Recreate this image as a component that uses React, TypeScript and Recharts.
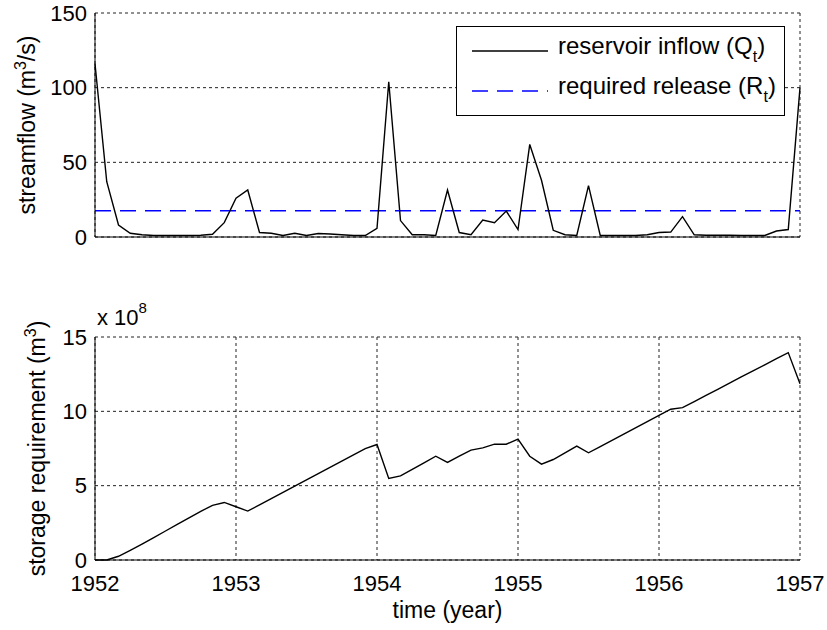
import React from "react";
import {
  LineChart,
  Line,
  XAxis,
  YAxis,
  CartesianGrid,
  Label,
} from "recharts";

// monthly values, Jan 1952 .. Jan 1957
const years = [1952, 1953, 1954, 1955, 1956, 1957];
const flowTicks = [0, 50, 100, 150];
const storageTicks = [0, 5, 10, 15];

// reservoir inflow Q_t (m^3/s)
const inflow = [
  116, 37, 8, 2.5, 1.5, 1, 1, 1, 1, 1.2, 1.8, 9.6,
  26, 31.5, 3, 2.5, 1, 2.5, 1, 2.3, 2, 1.5, 1, 1,
  5.8, 104, 11, 1.5, 1.5, 1, 31.5, 3, 1.5, 11.4, 9.6, 17.4,
  5, 62, 38, 4.5, 1.5, 1, 34.4, 1, 1, 1, 1, 1.5,
  3, 3.3, 13.6, 1.5, 1.2, 1.2, 1.2, 1, 1, 1, 4, 5,
  100,
];

// required release R_t (m^3/s)
const requiredRelease = 17.6;

// storage requirement (x 10^8 m^3)
const storage = [
  0, 0, 0.25, 0.65, 1.07, 1.51, 1.95, 2.39, 2.83, 3.27, 3.68, 3.87,
  3.58, 3.29, 3.71, 4.13, 4.55, 4.97, 5.39, 5.81, 6.23, 6.65, 7.07, 7.49,
  7.77, 5.48, 5.66, 6.1, 6.54, 6.98, 6.56, 6.98, 7.39, 7.54, 7.79, 7.79,
  8.13, 6.98, 6.45, 6.76, 7.21, 7.66, 7.21, 7.63, 8.05, 8.47, 8.89, 9.31,
  9.72, 10.14, 10.25, 10.66, 11.07, 11.48, 11.9, 12.31, 12.72, 13.13, 13.54, 13.95,
  11.86,
];

const rows = inflow.map((q, i) => ({
  t: years[0] + i / 12,
  inflow: q,
  release: requiredRelease,
  storage: storage[i],
}));

const FONT = "'Liberation Sans', Arial, Helvetica, sans-serif";
const tickStyle = { fontSize: 22, fill: "#000", fontFamily: FONT };
const gridProps = { stroke: "#222", strokeDasharray: "3 3" };
const boxLine = { stroke: "#000", strokeWidth: 1 };

function LegendBox() {
  const row = (top: number, dash: boolean, color: string, name: string, sym: string) => (
    <div style={{ position: "absolute", left: 15, top, height: 30, display: "flex", alignItems: "center" }}>
      <svg width={78} height={6} style={{ display: "block" }}>
        <line x1={0} y1={3} x2={76} y2={3} stroke={color} strokeWidth={1.4} strokeDasharray={dash ? "16 9" : undefined} />
      </svg>
      <span style={{ marginLeft: 8, fontSize: 24, fontFamily: FONT, color: "#000", whiteSpace: "nowrap", lineHeight: "30px" }}>
        {name} ({sym}
        <sub style={{ fontSize: 16, verticalAlign: "-8px" }}>t</sub>)
      </span>
    </div>
  );
  return (
    <div
      style={{
        position: "absolute",
        left: 456,
        top: 26,
        width: 329,
        height: 90,
        border: "1px solid #000",
        background: "#fff",
        boxSizing: "border-box",
      }}
    >
      {row(9, false, "#000", "reservoir inflow", "Q")}
      {row(49, true, "#0000ff", "required release", "R")}
    </div>
  );
}

function RotatedTitle({ viewBox, x, main, tail, scale }: any) {
  const cy = viewBox.y + viewBox.height / 2;
  return (
    <g>
      <text
        x={x}
        y={cy}
        transform={`rotate(-90 ${x} ${cy})`}
        textAnchor="middle"
        fontSize={23}
        fontFamily={FONT}
        fill="#000"
      >
        <tspan>{main}</tspan>
        <tspan dy={-9} fontSize={16}>3</tspan>
        <tspan dy={9}>{tail}</tspan>
      </text>
      {scale && (
        <text x={viewBox.x + viewBox.width + 2} y={viewBox.y - 12} fontSize={22} fontFamily={FONT} fill="#000">
          <tspan>x 10</tspan>
          <tspan dy={-12} fontSize={15}>8</tspan>
        </text>
      )}
    </g>
  );
}

export default function App() {
  return (
    <div style={{ position: "absolute", left: 0, top: 0, width: 827, height: 630, background: "#fff" }}>
      <div style={{ position: "absolute", left: 0, top: 0 }}>
        <LineChart width={827} height={250} data={rows} margin={{ top: 13, right: 27, left: 0, bottom: 0 }}>
          <CartesianGrid {...gridProps} />
          <XAxis
            dataKey="t"
            type="number"
            domain={[1952, 1957]}
            ticks={years}
            tick={false}
            tickLine={false}
            height={13}
            axisLine={boxLine}
          />
          <XAxis
            xAxisId="top"
            orientation="top"
            dataKey="t"
            type="number"
            domain={[1952, 1957]}
            tick={false}
            tickLine={false}
            height={0}
            axisLine={boxLine}
          />
          <YAxis
            domain={[0, 150]}
            ticks={flowTicks}
            width={95}
            tickLine={false}
            tickSize={0}
            tickMargin={8}
            tick={tickStyle}
            axisLine={boxLine}
          >
            <Label
              content={(p: any) => <RotatedTitle viewBox={p.viewBox} x={35} main="streamflow (m" tail="/s)" />}
            />
          </YAxis>
          <YAxis
            yAxisId="r"
            orientation="right"
            domain={[0, 150]}
            tick={false}
            tickLine={false}
            width={0}
            axisLine={boxLine}
          />
          <Line
            type="linear"
            dataKey="release"
            stroke="#0000ff"
            strokeWidth={1.4}
            strokeDasharray="16 9"
            dot={false}
            activeDot={false}
            isAnimationActive={false}
          />
          <Line
            type="linear"
            dataKey="inflow"
            stroke="#000"
            strokeWidth={1.4}
            dot={false}
            activeDot={false}
            isAnimationActive={false}
          />
        </LineChart>
        <LegendBox />
      </div>
      <div style={{ position: "absolute", left: 0, top: 250 }}>
        <LineChart width={827} height={380} data={rows} margin={{ top: 87, right: 27, left: 0, bottom: 0 }}>
          <CartesianGrid {...gridProps} />
          <XAxis
            dataKey="t"
            type="number"
            domain={[1952, 1957]}
            ticks={years}
            tickLine={false}
            tickSize={0}
            tickMargin={15}
            tick={tickStyle}
            height={70}
            axisLine={boxLine}
          >
            <Label
              content={(p: any) => (
                <text
                  x={p.viewBox.x + p.viewBox.width / 2}
                  y={p.viewBox.y + 58}
                  textAnchor="middle"
                  fontSize={23}
                  fontFamily={FONT}
                  fill="#000"
                >
                  time (year)
                </text>
              )}
            />
          </XAxis>
          <XAxis
            xAxisId="top"
            orientation="top"
            dataKey="t"
            type="number"
            domain={[1952, 1957]}
            tick={false}
            tickLine={false}
            height={0}
            axisLine={boxLine}
          />
          <YAxis
            domain={[0, 15]}
            ticks={storageTicks}
            width={95}
            tickLine={false}
            tickSize={0}
            tickMargin={8}
            tick={tickStyle}
            axisLine={boxLine}
          >
            <Label
              content={(p: any) => (
                <RotatedTitle viewBox={p.viewBox} x={45} main="storage requirement (m" tail=")" scale />
              )}
            />
          </YAxis>
          <YAxis
            yAxisId="r"
            orientation="right"
            domain={[0, 15]}
            tick={false}
            tickLine={false}
            width={0}
            axisLine={boxLine}
          />
          <Line
            type="linear"
            dataKey="storage"
            stroke="#000"
            strokeWidth={1.4}
            dot={false}
            activeDot={false}
            isAnimationActive={false}
          />
        </LineChart>
      </div>
    </div>
  );
}
